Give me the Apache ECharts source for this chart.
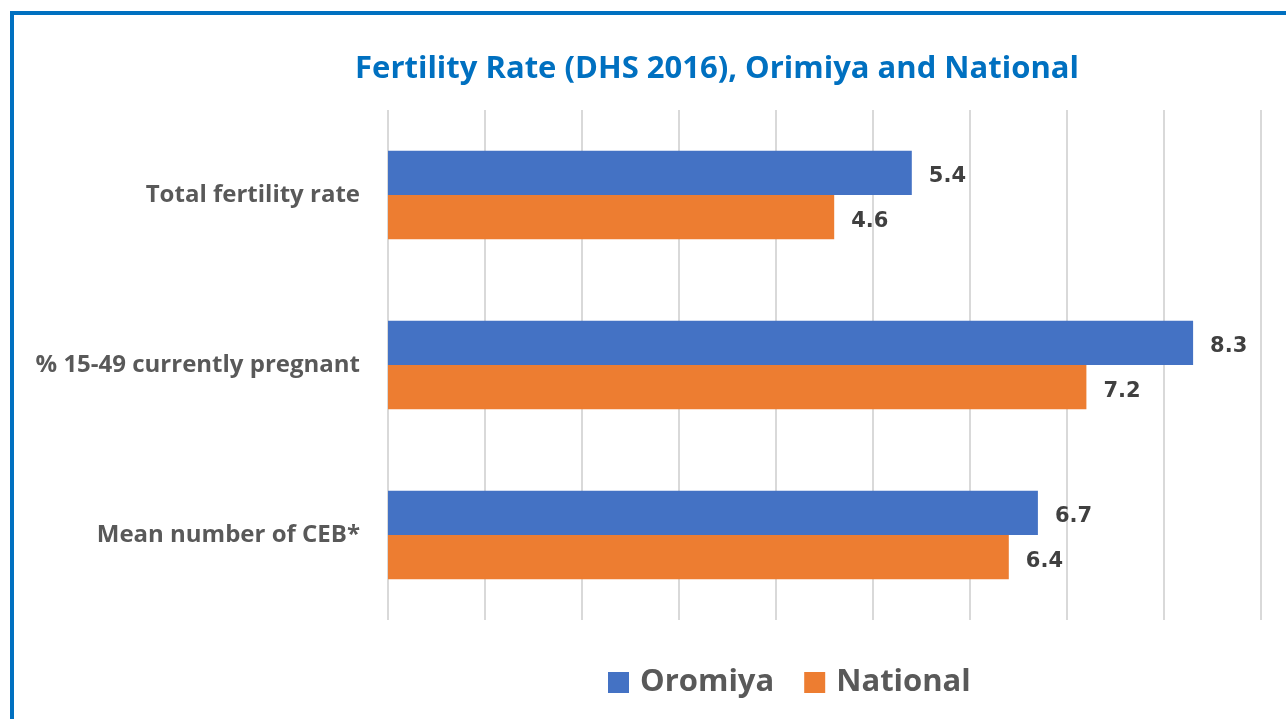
<!DOCTYPE html>
<html>
<head>
<meta charset="utf-8">
<script src="https://cdn.jsdelivr.net/npm/echarts@6/dist/echarts.min.js"></script>
<style>
  html, body { margin: 0; padding: 0; background: #fff; }
  #frame {
    position: absolute; left: 10px; top: 11px; width: 1300px; height: 720px;
    border-left: 4px solid #0070C0; border-top: 4px solid #0070C0;
  }
  #chart { position: absolute; left: 0; top: 0; width: 1286px; height: 719px; }
</style>
</head>
<body>
<div id="frame"></div>
<div id="chart"></div>
<script>
const categories = ["Total fertility rate", "% 15-49 currently pregnant", "Mean number of CEB*"];
const oromiya = [5.4, 8.3, 6.7];
const national = [4.6, 7.2, 6.4];
const seriesNames = ["Oromiya", "National"];

const font = "'Open Sans', sans-serif";

const labelStyle = {
  show: true,
  position: "right",
  distance: 17,
  offset: [0, 4],
  color: "#404040",
  fontSize: 21,
  fontWeight: "bold",
  fontFamily: "'DejaVu Sans', sans-serif",
};

let option = {
  animation: false,
  title: {
    text: "Fertility Rate (DHS 2016), Orimiya and National",
    left: 712,
    textAlign: "center",
    top: 49,
    textStyle: { color: "#0070C0", fontSize: 31, fontWeight: "bold", fontFamily: font },
  },
  legend: {
    data: seriesNames,
    left: 603,
    top: 662,
    icon: "rect",
    itemWidth: 21,
    itemHeight: 21,
    itemGap: 30,
    textStyle: { color: "#595959", fontSize: 31, fontWeight: "bold", fontFamily: font, padding: [0, 0, 0, 6] },
  },
  grid: { left: 388, right: 25, top: 110, bottom: 99, containLabel: false },
  xAxis: {
    type: "value",
    min: 0,
    max: 9,
    interval: 1,
    axisLabel: { show: false },
    axisLine: { show: false },
    axisTick: { show: false },
    splitLine: { lineStyle: { color: "#d9d9d9", width: 2 } },
  },
  yAxis: {
    type: "category",
    data: categories,
    inverse: true,
    axisLine: { show: false },
    axisTick: { show: false },
    axisLabel: { margin: 28, color: "#595959", fontSize: 24, fontWeight: "bold", fontFamily: font },
  },
  series: [
    {
      name: "Oromiya",
      type: "bar",
      data: oromiya,
      barGap: "0%",
      barCategoryGap: "48%",
      itemStyle: { color: "#4472C4" },
      label: labelStyle,
    },
    {
      name: "National",
      type: "bar",
      data: national,
      itemStyle: { color: "#ED7D31" },
      label: labelStyle,
    },
  ],
};

let mychart = echarts.init(document.getElementById("chart"));
mychart.setOption(option);
</script>
</body>
</html>
